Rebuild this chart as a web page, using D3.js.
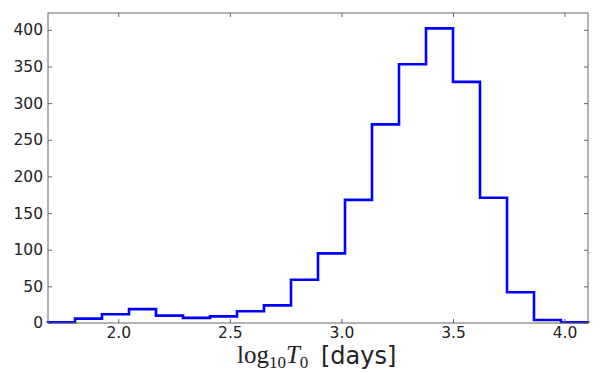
<!DOCTYPE html>
<html>
<head>
<meta charset="utf-8">
<script src="https://cdn.jsdelivr.net/npm/d3@7"></script>
<style>
  body { margin: 0; background: #fff; }
  text { font-family: "DejaVu Sans", sans-serif; fill: #222; }
</style>
</head>
<body>
<div id="chart"></div>
<script>
// histogram of log10 T0, 20 bins over the data range
var binStart = 1.685,
    binEnd = 4.105,
    nBins = 20;
var counts = [1, 6, 12, 19, 10, 7, 9, 16, 24, 59, 95, 168, 271, 353, 402, 329, 171, 42, 4, 1];
var xTicks = [2.0, 2.5, 3.0, 3.5, 4.0];
var yTicks = [0, 50, 100, 150, 200, 250, 300, 350, 400];

var W = 600, H = 372,
    margin = {top: 13, right: 12, bottom: 49, left: 48},
    width = W - margin.left - margin.right,
    height = H - margin.top - margin.bottom;

var svg = d3.select("#chart").append("svg")
    .attr("width", W)
    .attr("height", H);

var g = svg.append("g")
    .attr("transform", "translate(" + margin.left + "," + margin.top + ")");

var x = d3.scaleLinear().domain([binStart, binEnd]).range([0, width]);
var y = d3.scaleLinear().domain([0, 423]).range([height, 0]);

var binW = (binEnd - binStart) / nBins;

// step outline: start at the baseline, go through each bin top, back to baseline
var pts = [[binStart, 0]];
counts.forEach(function(c, i) {
  pts.push([binStart + i * binW, c]);
  pts.push([binStart + (i + 1) * binW, c]);
});
pts.push([binEnd, 0]);

var line = d3.line()
    .x(function(d) { return x(d[0]); })
    .y(function(d) { return y(d[1]); });

g.append("path")
    .datum(pts)
    .attr("d", line)
    .attr("fill", "none")
    .attr("stroke", "#0000ff")
    .attr("stroke-width", 2.6)
    .attr("stroke-linejoin", "miter");

// frame
g.append("rect")
    .attr("width", width)
    .attr("height", height)
    .attr("fill", "none")
    .attr("stroke", "#666")
    .attr("stroke-width", 1);

// ticks point inwards on all four sides
var tickLen = 4;
var axBottom = d3.axisBottom(x).tickValues(xTicks).tickSizeInner(-tickLen).tickSizeOuter(0)
    .tickPadding(4).tickFormat(d3.format(".1f"));
var axTop = d3.axisTop(x).tickValues(xTicks).tickSizeInner(-tickLen).tickSizeOuter(0).tickFormat("");
var axLeft = d3.axisLeft(y).tickValues(yTicks).tickSizeInner(-tickLen).tickSizeOuter(0)
    .tickPadding(5).tickFormat(d3.format("d"));
var axRight = d3.axisRight(y).tickValues(yTicks).tickSizeInner(-tickLen).tickSizeOuter(0).tickFormat("");

function styleAxis(sel) {
  sel.attr("font-size", null).attr("font-family", null);
  sel.select(".domain").remove();
  sel.selectAll(".tick line").attr("stroke", "#666");
  sel.selectAll(".tick text")
      .style("font-family", "'DejaVu Sans', sans-serif")
      .style("font-size", "15.5px")
      .attr("fill", "#222");
}

g.append("g").attr("transform", "translate(0," + height + ")").call(axBottom).call(styleAxis);
g.append("g").call(axTop).call(styleAxis);
g.append("g").call(axLeft).call(styleAxis);
g.append("g").attr("transform", "translate(" + width + ",0)").call(axRight).call(styleAxis);

// x label: mathtext part in serif, then "[days]"
var serif = "'Liberation Serif', 'DejaVu Serif', serif";
var math = svg.append("text")
    .attr("x", 237)
    .attr("y", 363)
    .style("font-family", serif)
    .style("font-size", "25px");
math.append("tspan").text("log");
math.append("tspan").style("font-size", "17px").attr("dy", 5).text("10");
math.append("tspan").style("font-style", "italic").attr("dy", -5).text("T");
math.append("tspan").style("font-size", "17px").attr("dy", 5).text("0");

svg.append("text")
    .attr("x", 321)
    .attr("y", 364)
    .style("font-size", "24px")
    .text("[days]");
</script>
</body>
</html>
